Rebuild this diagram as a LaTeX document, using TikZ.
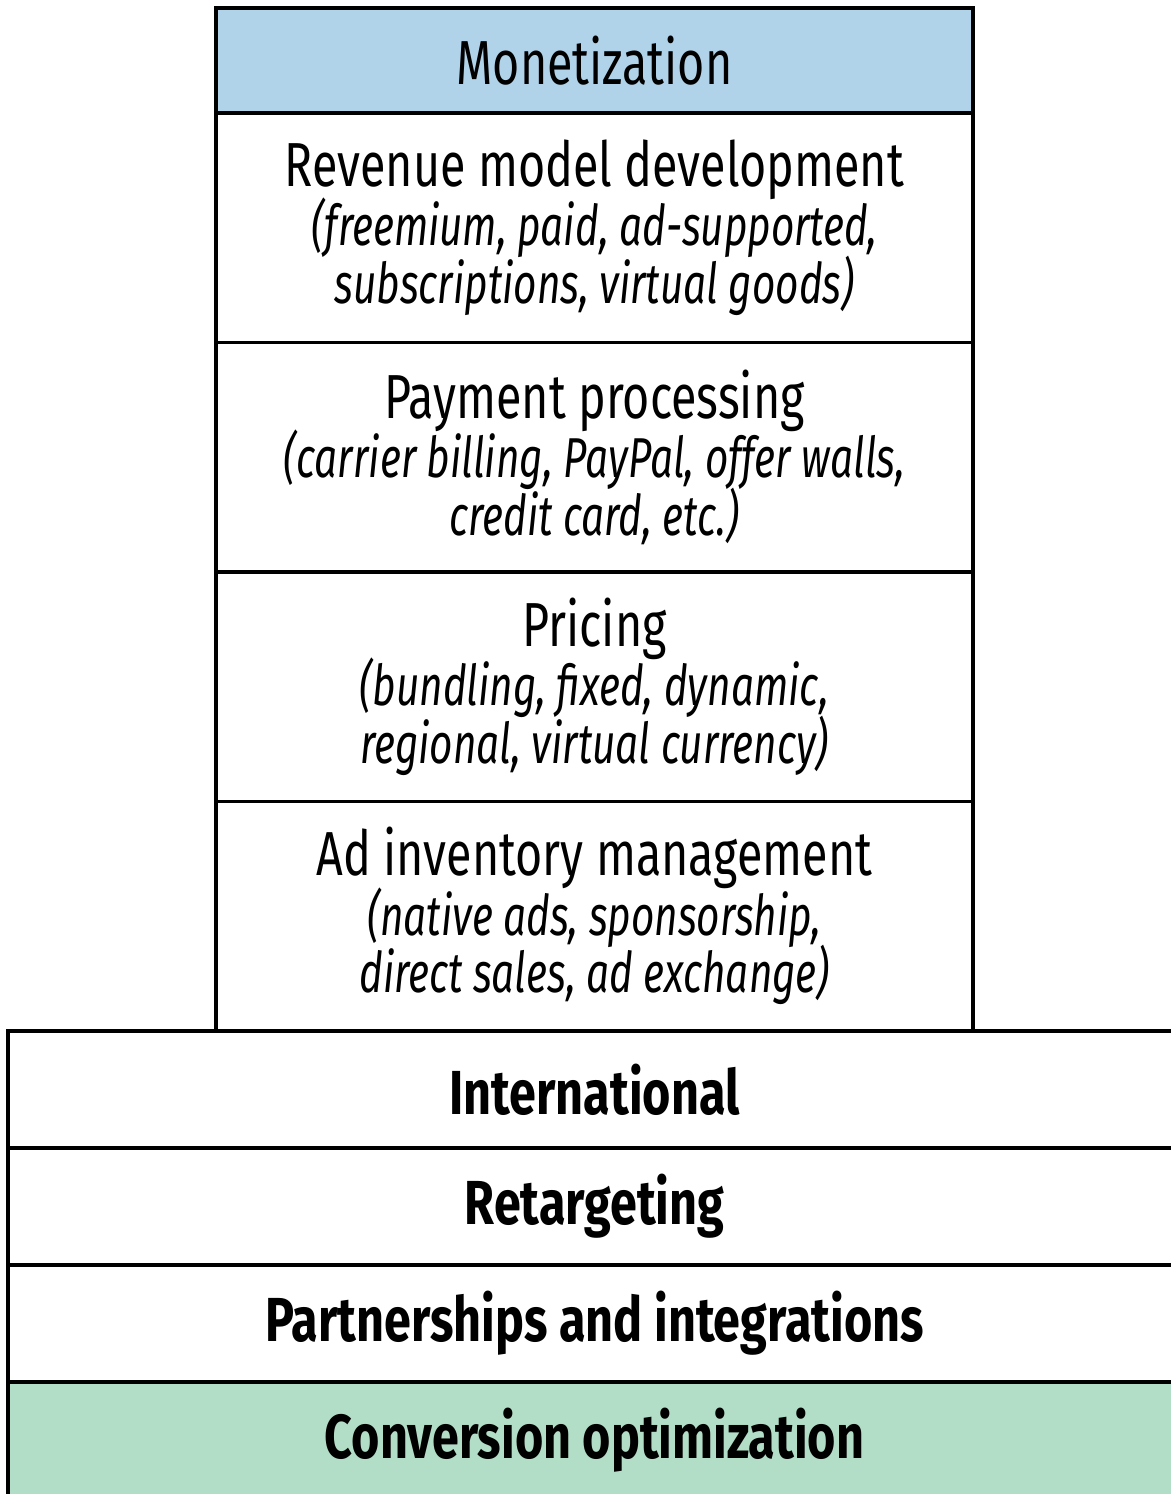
\documentclass[tikz,border=0pt]{standalone}
\usepackage{fontspec}
\setmainfont{Fira Sans}[FakeStretch=0.75, ItalicFeatures={FakeStretch=0.72}, BoldFeatures={FakeStretch=0.78}]
\usetikzlibrary{positioning}
\definecolor{monblue}{RGB}{176,211,233}
\definecolor{convgreen}{RGB}{178,221,198}

\newcommand{\detail}[1]{{\itshape\fontsize{16}{15.4}\selectfont #1}}

\begin{document}
\begin{tikzpicture}[
    layer/.style={draw=black, line width=0.9pt, rectangle, inner sep=0pt, outer sep=0pt, align=center,
        font=\fontsize{17.7}{15.4}\selectfont},
    stackbox/.style={layer, minimum width=7.57cm, minimum height=2.295cm},
    widebox/.style={layer, minimum width=11.73cm, minimum height=1.17cm,
        font=\fontsize{17.7}{15.4}\selectfont\bfseries}
]
    \useasboundingbox (0,0) rectangle (11.71,-14.94);

    % Monetization column
    \node[stackbox, fill=monblue, minimum height=1.05cm] (monetization) at (5.945,-0.605) {Monetization};
    \node[stackbox, below=0pt of monetization] (revenue) {Revenue model development\\[-1.5pt]
        \detail{(freemium, paid, ad-supported,}\\[-1.5pt] \detail{subscriptions, virtual goods)}};
    \node[stackbox, below=0pt of revenue] (payment) {Payment processing\\[-1.5pt]
        \detail{(carrier billing, PayPal, offer walls,}\\[-1.5pt] \detail{credit card, etc.)}};
    \node[stackbox, below=0pt of payment] (pricing) {Pricing\\[-1.5pt]
        \detail{(bundling, fixed, dynamic,}\\[-1.5pt] \detail{regional, virtual currency)}};
    \node[stackbox, below=0pt of pricing] (adinventory) {Ad inventory management\\[-1.5pt]
        \detail{(native ads, sponsorship,}\\[-1.5pt] \detail{direct sales, ad exchange)}};

    % Wide base layers
    \foreach \name/\label [remember=\name as \prev (initially adinventory)] in
        {international/International, retargeting/Retargeting, partnerships/Partnerships and integrations} {
        \node[widebox, below=0pt of \prev] (\name) {\label};
    }
    \node[widebox, fill=convgreen, below=0pt of partnerships] (conversion) {Conversion optimization};

\end{tikzpicture}
\end{document}
